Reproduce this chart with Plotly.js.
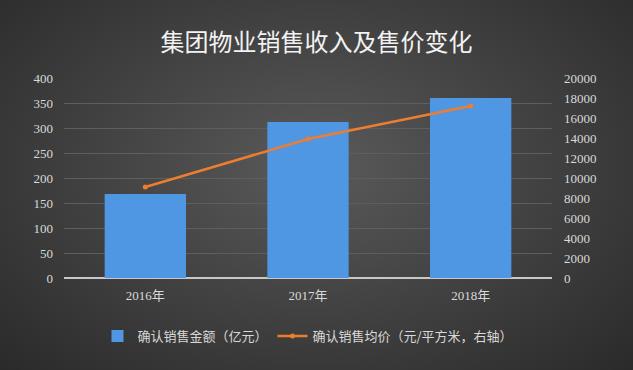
<!DOCTYPE html>
<html><head><meta charset="utf-8">
<script src="https://cdn.plot.ly/plotly-3.0.1.min.js"></script>
<style>
html,body{margin:0;padding:0;}
body{width:633px;height:370px;background:radial-gradient(ellipse at 50% 45%, #5a5a5a 0%, #444 45%, #2a2a2a 100%);}
#chart{width:633px;height:370px;}
</style></head>
<body><div id="chart"></div>
<script>
const years = ['2016年','2017年','2018年'];
const salesAmount = [168, 312, 360];
const avgPrice = [9100, 13900, 17200];
const leftTicks = [0,50,100,150,200,250,300,350,400];
const rightTicks = [0,2000,4000,6000,8000,10000,12000,14000,16000,18000,20000];
const barName = '确认销售金额（亿元）';
const lineName = '确认销售均价（元/平方米，右轴）';
const titleText = '集团物业销售收入及售价变化';

const tickFont = {family:'Liberation Serif, Noto Sans CJK SC, serif', size:13, color:'#d9d9d9'};
const data = [
  {type:'bar', x:years, y:salesAmount, name:barName, yaxis:'y',
   marker:{color:'#4f97e2', line:{width:0}}, hoverinfo:'none'},
  {type:'scatter', mode:'lines+markers', x:years, y:avgPrice, name:lineName, yaxis:'y2',
   line:{color:'#ed7d31', width:2.5}, marker:{color:'#ed7d31', size:5}, hoverinfo:'none'}
];
const layout = {
  width:633, height:370,
  paper_bgcolor:'rgba(0,0,0,0)', plot_bgcolor:'rgba(0,0,0,0)',
  margin:{l:64, r:81, t:78, b:92},
  title:{text:titleText, x:0.5, xanchor:'center', y:0.885, yanchor:'middle',
         font:{family:'Noto Sans CJK SC, sans-serif', size:24, color:'#f2f2f2'}},
  bargap:0.5,
  showlegend:true,
  legend:{orientation:'h', x:0.5, xanchor:'center', y:-0.215, yanchor:'top',
          font:{family:'Noto Sans CJK SC, sans-serif', size:13, color:'#d9d9d9'},
          itemwidth:30, traceorder:'normal'},
  xaxis:{type:'category', tickfont:tickFont, showgrid:false, showline:false, ticks:'', zeroline:false,
         ticklabelstandoff:8},
  yaxis:{range:[0,400], tickvals:leftTicks, ticktext:leftTicks.map(String), tickfont:tickFont,
         showgrid:true, gridcolor:'#5e5e5e', gridwidth:1, zeroline:true, zerolinecolor:'#c8c8c8', zerolinewidth:1.5,
         showline:false, ticks:'', ticklabelstandoff:10},
  yaxis2:{range:[0,20000], tickvals:rightTicks, ticktext:rightTicks.map(String), tickfont:tickFont,
          overlaying:'y', side:'right', showgrid:false, zeroline:false, showline:false, ticks:'', ticklabelstandoff:11}
};
Plotly.newPlot('chart', data, layout, {displayModeBar:false, staticPlot:true});
</script></body></html>
